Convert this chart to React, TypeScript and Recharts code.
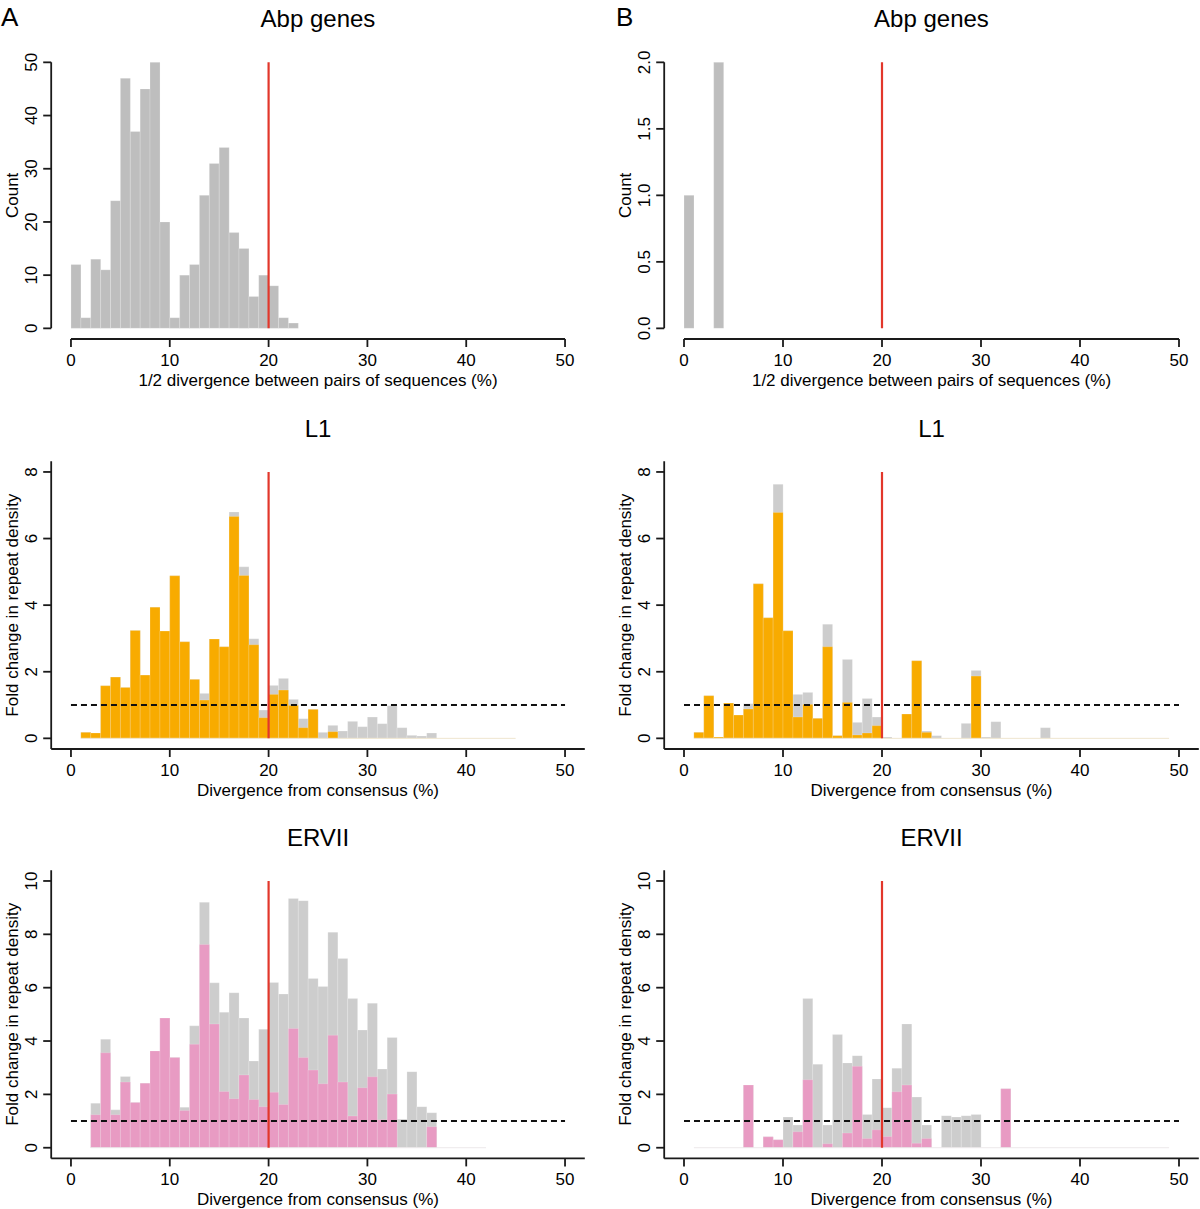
import { Bar, ComposedChart, ReferenceLine, XAxis, YAxis } from "recharts";

const FONT = '"Liberation Sans", Arial, Helvetica, sans-serif';

// Histogram bins are 1% wide; the first value of each list belongs to bin [start, start + 1).
const abpAStart = 0;
const abpACounts = [12, 2, 13, 11, 24, 47, 37, 45, 50, 20, 2, 10, 12, 25, 31, 34, 18, 15, 6, 10, 8, 2, 1];
const abpBStart = 0;
const abpBCounts = [1, 0, 0, 2];

const l1AStart = 1;
const l1AAll = [
  0.18, 0.16, 1.58, 1.84, 1.53, 3.24, 1.9, 3.94, 3.22, 4.88, 2.9, 1.77, 1.35, 2.98, 2.75, 6.8, 5.15, 2.99,
  0.85, 1.59, 1.8, 1.17, 0.59, 0.87, 0.18, 0.39, 0.22, 0.51, 0.35, 0.64, 0.44, 0.98, 0.32, 0.09, 0.07, 0.16,
];
const l1ASub = [
  0.18, 0.16, 1.58, 1.84, 1.53, 3.24, 1.9, 3.94, 3.22, 4.88, 2.9, 1.77, 1.15, 2.98, 2.75, 6.66, 4.89, 2.81,
  0.62, 1.32, 1.45, 0.99, 0.32, 0.87, 0, 0.2,
];
const l1ASpan: [number, number] = [1, 45];

const l1BStart = 1;
const l1BAll = [
  0.18, 1.28, 0.04, 1.06, 0.7, 1.04, 4.64, 3.62, 7.63, 3.23, 1.32, 1.38, 0.6, 3.43, 0.08, 2.37, 0.48, 1.2,
  0.64, 0.04, 0, 0.73, 2.33, 0.22, 0.08, 0, 0, 0.45, 2.04, 0.04, 0.5, 0, 0, 0, 0, 0.32,
];
const l1BSub = [
  0.18, 1.28, 0.04, 1.06, 0.7, 0.88, 4.64, 3.62, 6.78, 3.23, 0.64, 1.02, 0.6, 2.75, 0.08, 1.08, 0.1, 0.16,
  0.38, 0, 0, 0.73, 2.33, 0.18, 0, 0, 0, 0, 1.87,
];
const l1BSpan: [number, number] = [1, 49];

const ervAStart = 2;
const ervAAll = [
  1.67, 4.07, 1.42, 2.67, 1.7, 2.42, 3.63, 4.86, 3.38, 1.52, 4.57, 9.2, 6.18, 5.08, 5.81, 4.86, 3.25, 4.44,
  6.19, 5.76, 9.34, 9.26, 6.34, 6.04, 8.08, 7.09, 5.59, 4.41, 5.42, 2.95, 4.13, 1.07, 2.85, 1.54, 1.31,
];
const ervASub = [
  1.24, 3.56, 1.24, 2.46, 1.7, 2.42, 3.63, 4.86, 3.38, 1.4, 3.88, 7.62, 4.64, 2.11, 1.84, 2.73, 1.81, 1.54,
  2.08, 1.62, 4.47, 3.38, 2.91, 2.4, 4.22, 2.46, 1.19, 2.25, 2.66, 1.05, 2.01, 0, 0, 0, 0.79,
];
const ervASpan: [number, number] = [2, 42];

const ervBStart = 6;
const ervBAll = [
  2.35, 0, 0.41, 0.3, 1.15, 0.85, 5.59, 3.13, 0.85, 4.24, 3.18, 3.45, 1.25, 2.58, 1.5, 2.98, 4.64, 1.9,
  0.85, 0, 1.2, 1.15, 1.2, 1.25, 0, 0, 2.21,
];
const ervBSub = [
  2.35, 0, 0.41, 0.3, 0, 0.6, 2.55, 0, 0.15, 0, 0.55, 3.05, 0.35, 0.67, 0.42, 2.1, 2.35, 0.17, 0.35, 0, 0,
  0, 0, 0, 0, 0, 2.21,
];
const ervBSpan: [number, number] = [1, 49];

const xTicks = [0, 10, 20, 30, 40, 50];
const xDomain: [number, number] = [-2, 52];
const countTicksA = [0, 10, 20, 30, 40, 50];
const countTicksB = [0, 0.5, 1, 1.5, 2];
const foldTicksL1 = [0, 2, 4, 6, 8];
const foldTicksErv = [0, 2, 4, 6, 8, 10];

const CUTOFF = 20;
const BASELINE = 1;

const GRAY_TOP = "#bebebe";
const GRAY = "#cdcdcd";
const ORANGE = "#f8ab00";
const PINK = "#e89bc3";
const RED = "#e2372b";
const INK = "#1a1a1a";

const Y_AXIS_W = 51.2;

// one row per 1% bin over the whole plotting range (-2..52)
const bins = Array.from({ length: xDomain[1] - xDomain[0] }, (_, i) => xDomain[0] + i);

function toRows(start: number, all: number[], sub?: number[]) {
  return bins.map((bin) => {
    const i = bin - start;
    return { bin, all: all[i] ?? null, sub: sub ? sub[i] ?? null : null };
  });
}

const axisStyle = { stroke: INK, strokeWidth: 1.8 };

function XTick(props: any) {
  const { x, y, payload } = props;
  return (
    <text x={x} y={y} dy={19} textAnchor="middle" fontSize={17} fontFamily={FONT} fill="#000">
      {payload.value}
    </text>
  );
}

function YTick(props: any) {
  const { x, y, payload, fmt } = props;
  const cx = x - 11.7;
  return (
    <text
      x={cx}
      y={y}
      dy="0.35em"
      transform={`rotate(-90 ${cx} ${y})`}
      textAnchor="middle"
      fontSize={17}
      fontFamily={FONT}
      fill="#000"
    >
      {fmt ? fmt(payload.value) : payload.value}
    </text>
  );
}

type PanelProps = {
  left: number;
  top: number;
  width: number;
  height: number;
  marginTop: number;
  marginRight: number;
  xAxisH: number;
  rows: ReturnType<typeof toRows>;
  allFill: string;
  subFill?: string;
  yDomain: [number, number];
  yTicks: number[];
  yFmt?: (v: number) => string;
  boxed: boolean;
  span?: [number, number];
  spanColor?: string;
  title: string;
  xTitle: string;
  yTitle: string;
  tag?: string;
  tagX?: number;
};

function Panel(p: PanelProps) {
  const plotW = p.width - Y_AXIS_W - p.marginRight;
  const plotH = p.height - p.marginTop - p.xAxisH;
  const cx = Y_AXIS_W + plotW / 2;
  const cy = p.marginTop + plotH / 2;
  const yTop = p.yTicks[p.yTicks.length - 1];

  return (
    <div style={{ position: "absolute", left: p.left, top: p.top, width: p.width, height: p.height }}>
      <ComposedChart
        width={p.width}
        height={p.height}
        data={p.rows}
        margin={{ top: p.marginTop, right: p.marginRight, bottom: 0, left: 0 }}
        barCategoryGap={0}
        barGap={0}
      >
        <XAxis xAxisId="all" dataKey="bin" hide height={0} />
        <XAxis xAxisId="sub" dataKey="bin" hide height={0} />
        <XAxis
          xAxisId="num"
          dataKey="bin"
          type="number"
          domain={xDomain}
          ticks={xTicks}
          allowDataOverflow
          interval={0}
          height={p.xAxisH}
          tickSize={8}
          tickMargin={0}
          axisLine={p.boxed ? axisStyle : false}
          tickLine={axisStyle}
          tick={XTick}
        />
        {p.boxed ? (
          <XAxis
            xAxisId="top"
            dataKey="bin"
            orientation="top"
            type="number"
            domain={xDomain}
            allowDataOverflow
            height={0}
            tick={false}
            tickLine={false}
            axisLine={axisStyle}
          />
        ) : null}
        <YAxis
          type="number"
          domain={p.yDomain}
          ticks={p.yTicks}
          allowDataOverflow
          interval={0}
          width={Y_AXIS_W}
          tickSize={8}
          tickMargin={0}
          axisLine={p.boxed ? axisStyle : false}
          tickLine={axisStyle}
          tick={(t: any) => <YTick {...t} fmt={p.yFmt} />}
        />
        {p.boxed ? (
          <YAxis
            yAxisId="r"
            orientation="right"
            type="number"
            domain={p.yDomain}
            allowDataOverflow
            width={0}
            tick={false}
            tickLine={false}
            axisLine={axisStyle}
          />
        ) : null}

        {p.span ? (
          <ReferenceLine
            xAxisId="num"
            segment={[
              { x: p.span[0], y: 0 },
              { x: p.span[1], y: 0 },
            ]}
            stroke={p.spanColor}
            strokeWidth={1}
            ifOverflow="visible"
          />
        ) : null}

        <Bar
          xAxisId="all"
          dataKey="all"
          fill={p.allFill}
          stroke="#ffffff"
          strokeOpacity={0.35}
          strokeWidth={0.6}
          isAnimationActive={false}
        />
        {p.subFill ? (
          <Bar
            xAxisId="sub"
            dataKey="sub"
            fill={p.subFill}
            stroke="#ffffff"
            strokeOpacity={0.3}
            strokeWidth={0.6}
            isAnimationActive={false}
          />
        ) : null}

        {!p.boxed ? (
          <ReferenceLine
            xAxisId="num"
            segment={[
              { x: xTicks[0], y: p.yDomain[0] },
              { x: xTicks[xTicks.length - 1], y: p.yDomain[0] },
            ]}
            stroke={INK}
            strokeWidth={1.8}
            ifOverflow="visible"
          />
        ) : null}
        {!p.boxed ? (
          <ReferenceLine
            xAxisId="num"
            segment={[
              { x: xDomain[0], y: p.yTicks[0] },
              { x: xDomain[0], y: yTop },
            ]}
            stroke={INK}
            strokeWidth={1.8}
            ifOverflow="visible"
          />
        ) : null}

        {p.boxed ? (
          <ReferenceLine
            xAxisId="num"
            segment={[
              { x: 0, y: BASELINE },
              { x: 50, y: BASELINE },
            ]}
            stroke="#111"
            strokeWidth={2}
            strokeDasharray="6 4"
            ifOverflow="visible"
          />
        ) : null}
        <ReferenceLine
          xAxisId="num"
          segment={[
            { x: CUTOFF, y: 0 },
            { x: CUTOFF, y: yTop },
          ]}
          stroke={RED}
          strokeWidth={2.2}
          ifOverflow="visible"
        />
      </ComposedChart>

      <svg
        width={p.width}
        height={p.height}
        style={{ position: "absolute", left: 0, top: 0, pointerEvents: "none" }}
        fontFamily={FONT}
      >
        {p.tag ? (
          <text x={p.tagX ?? 1} y={26} fontSize={26} fill="#000">
            {p.tag}
          </text>
        ) : null}
        <text x={cx} y={p.marginTop - 24.5} textAnchor="middle" fontSize={24} fill="#000">
          {p.title}
        </text>
        <text x={cx} y={p.marginTop + plotH + 47} textAnchor="middle" fontSize={17} fill="#000">
          {p.xTitle}
        </text>
        <text
          x={12.5}
          y={cy}
          dy="0.35em"
          transform={`rotate(-90 12.5 ${cy})`}
          textAnchor="middle"
          fontSize={17}
          fill="#000"
        >
          {p.yTitle}
        </text>
      </svg>
    </div>
  );
}

const colA = { left: 0, width: 600, marginRight: 15.2 };
const colB = { left: 613, width: 587, marginRight: 1.2 };
const row1 = { top: 0, height: 400, marginTop: 51.7, xAxisH: 61 };
const row2 = { top: 400, height: 410, marginTop: 61.3, xAxisH: 61 };
const row3 = { top: 810, height: 399, marginTop: 60.3, xAxisH: 50.6 };

const pairTitle = "1/2 divergence between pairs of sequences (%)";
const consTitle = "Divergence from consensus (%)";
const foldTitle = "Fold change in repeat density";

export default function App() {
  return (
    <div
      style={{
        position: "relative",
        width: 1200,
        height: 1209,
        overflow: "hidden",
        background: "#fff",
        fontFamily: FONT,
      }}
    >
      <style>{"body{margin:0}"}</style>

      <Panel
        {...colA}
        {...row1}
        rows={toRows(abpAStart, abpACounts)}
        allFill={GRAY_TOP}
        yDomain={[-2, 52]}
        yTicks={countTicksA}
        boxed={false}
        title="Abp genes"
        xTitle={pairTitle}
        yTitle="Count"
        tag="A"
        tagX={1}
      />
      <Panel
        {...colB}
        {...row1}
        rows={toRows(abpBStart, abpBCounts)}
        allFill={GRAY_TOP}
        yDomain={[-0.08, 2.08]}
        yTicks={countTicksB}
        yFmt={(v) => v.toFixed(1)}
        boxed={false}
        title="Abp genes"
        xTitle={pairTitle}
        yTitle="Count"
        tag="B"
        tagX={3}
      />

      <Panel
        {...colA}
        {...row2}
        rows={toRows(l1AStart, l1AAll, l1ASub)}
        allFill={GRAY}
        subFill={ORANGE}
        yDomain={[-0.32, 8.32]}
        yTicks={foldTicksL1}
        boxed
        span={l1ASpan}
        spanColor="#efe6cf"
        title="L1"
        xTitle={consTitle}
        yTitle={foldTitle}
      />
      <Panel
        {...colB}
        {...row2}
        rows={toRows(l1BStart, l1BAll, l1BSub)}
        allFill={GRAY}
        subFill={ORANGE}
        yDomain={[-0.32, 8.32]}
        yTicks={foldTicksL1}
        boxed
        span={l1BSpan}
        spanColor="#efe6cf"
        title="L1"
        xTitle={consTitle}
        yTitle={foldTitle}
      />

      <Panel
        {...colA}
        {...row3}
        rows={toRows(ervAStart, ervAAll, ervASub)}
        allFill={GRAY}
        subFill={PINK}
        yDomain={[-0.4, 10.4]}
        yTicks={foldTicksErv}
        boxed
        span={ervASpan}
        spanColor="#ece8ea"
        title="ERVII"
        xTitle={consTitle}
        yTitle={foldTitle}
      />
      <Panel
        {...colB}
        {...row3}
        rows={toRows(ervBStart, ervBAll, ervBSub)}
        allFill={GRAY}
        subFill={PINK}
        yDomain={[-0.4, 10.4]}
        yTicks={foldTicksErv}
        boxed
        span={ervBSpan}
        spanColor="#ece8ea"
        title="ERVII"
        xTitle={consTitle}
        yTitle={foldTitle}
      />
    </div>
  );
}
